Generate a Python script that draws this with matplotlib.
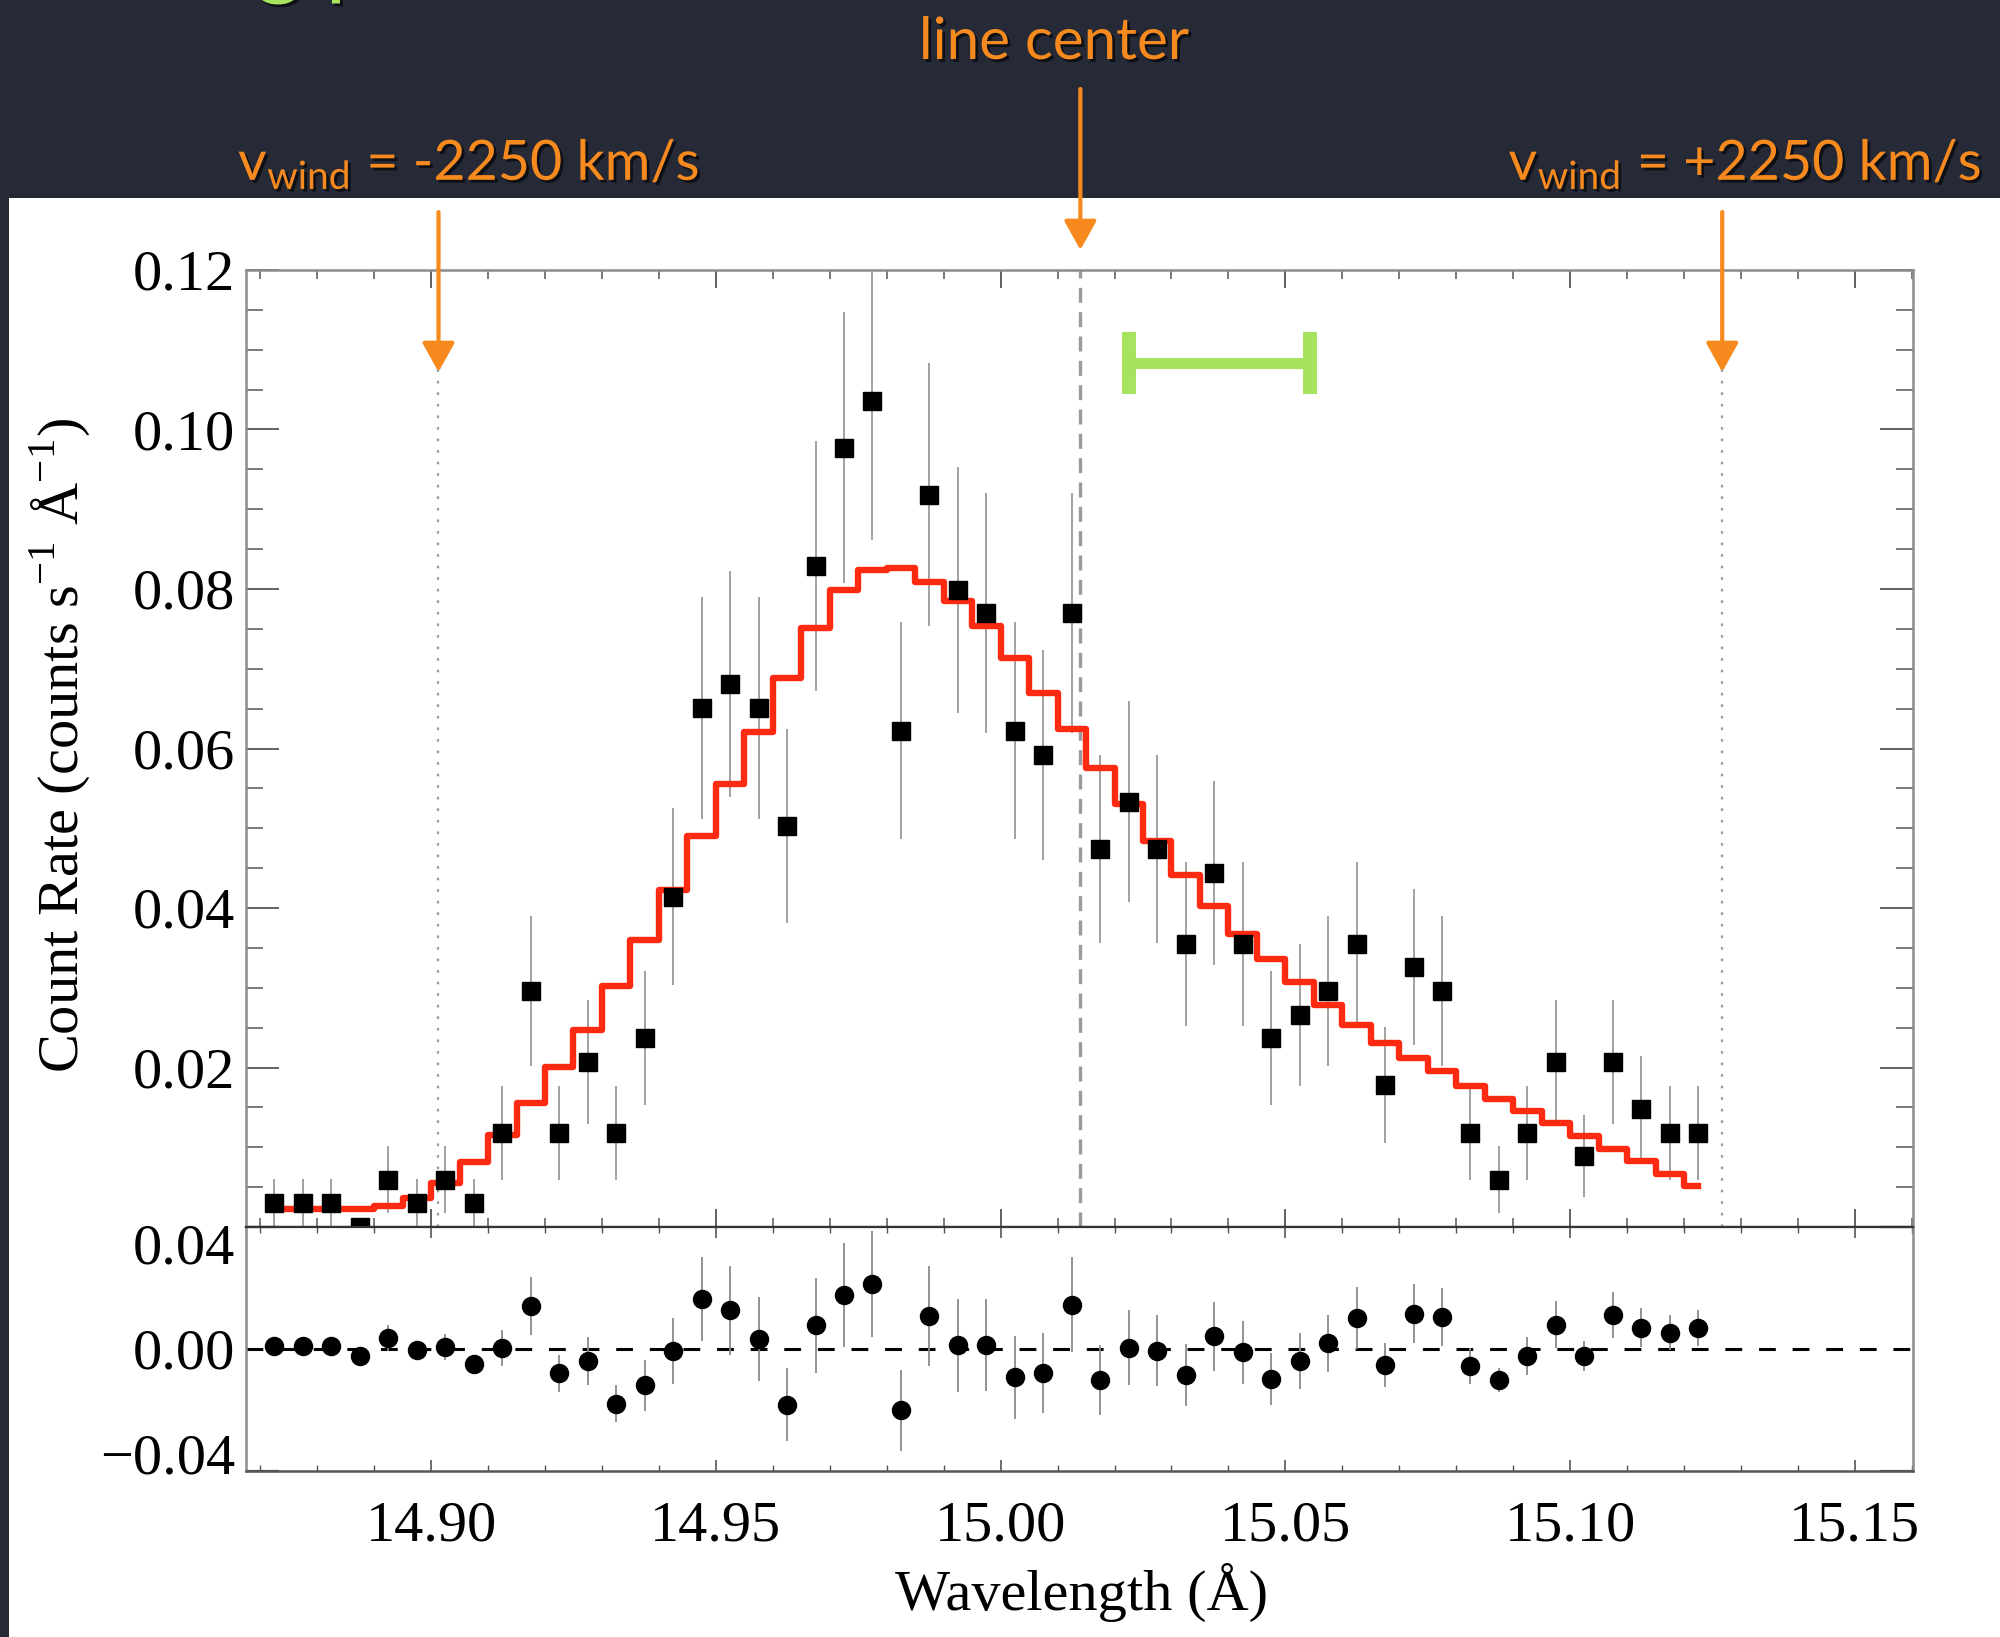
import matplotlib
matplotlib.use("Agg")
import matplotlib.pyplot as plt
import matplotlib.patheffects as pe
from matplotlib.patches import Rectangle
from matplotlib.ticker import MultipleLocator, FixedLocator, FuncFormatter
from matplotlib.transforms import blended_transform_factory

plt.rcParams['font.family'] = ['Liberation Serif', 'DejaVu Serif']
plt.rcParams['mathtext.fontset'] = 'custom'
plt.rcParams['mathtext.rm'] = 'Liberation Serif'
plt.rcParams['mathtext.sf'] = 'Lato'

# --- spectrum: bin centres (Angstrom), count rate, 1-sigma errors, model --- #
wave = [14.8725, 14.8775, 14.8825, 14.8875, 14.8925, 14.8975, 14.9025, 14.9075,
        14.9125, 14.9175, 14.9225, 14.9275, 14.9325, 14.9375, 14.9425, 14.9475,
        14.9525, 14.9575, 14.9625, 14.9675, 14.9725, 14.9775, 14.9825, 14.9875,
        14.9925, 14.9975, 15.0025, 15.0075, 15.0125, 15.0175, 15.0225, 15.0275,
        15.0325, 15.0375, 15.0425, 15.0475, 15.0525, 15.0575, 15.0625, 15.0675,
        15.0725, 15.0775, 15.0825, 15.0875, 15.0925, 15.0975, 15.1025, 15.1075,
        15.1125, 15.1175, 15.1225]

rate = [0.0030, 0.0030, 0.0030, 0.0000, 0.0059, 0.0030, 0.0059, 0.0030,
        0.0118, 0.0296, 0.0118, 0.0207, 0.0118, 0.0237, 0.0414, 0.0651,
        0.0681, 0.0651, 0.0503, 0.0829, 0.0977, 0.1036, 0.0622, 0.0918,
        0.0799, 0.0770, 0.0622, 0.0592, 0.0770, 0.0474, 0.0533, 0.0474,
        0.0355, 0.0444, 0.0355, 0.0237, 0.0266, 0.0296, 0.0355, 0.0178,
        0.0326, 0.0296, 0.0118, 0.0059, 0.0118, 0.0207, 0.0089, 0.0207,
        0.0148, 0.0118, 0.0118]

rate_err = [0.0030, 0.0030, 0.0030, 0.0000, 0.0042, 0.0030, 0.0042, 0.0030,
            0.0059, 0.0094, 0.0059, 0.0078, 0.0059, 0.0084, 0.0111, 0.0139,
            0.0142, 0.0139, 0.0122, 0.0157, 0.0170, 0.0175, 0.0136, 0.0165,
            0.0154, 0.0151, 0.0136, 0.0132, 0.0151, 0.0118, 0.0126, 0.0118,
            0.0103, 0.0115, 0.0103, 0.0084, 0.0089, 0.0094, 0.0103, 0.0073,
            0.0098, 0.0094, 0.0059, 0.0042, 0.0059, 0.0078, 0.0051, 0.0078,
            0.0066, 0.0059, 0.0059]

model = [0.0022, 0.0022, 0.0022, 0.0023, 0.0026, 0.0036, 0.0055, 0.0082,
         0.0115, 0.0155, 0.0201, 0.0247, 0.0302, 0.0360, 0.0423, 0.0490,
         0.0555, 0.0621, 0.0688, 0.0751, 0.0799, 0.0824, 0.0826, 0.0809,
         0.0785, 0.0753, 0.0713, 0.0670, 0.0624, 0.0576, 0.0530, 0.0484,
         0.0442, 0.0402, 0.0368, 0.0336, 0.0307, 0.0278, 0.0253, 0.0231,
         0.0212, 0.0195, 0.0177, 0.0160, 0.0145, 0.0130, 0.0114, 0.0098,
         0.0083, 0.0067, 0.0052]

resid = [0.0011, 0.0011, 0.0011, -0.0027, 0.0042, -0.0006, 0.0007, -0.0058,
         0.0004, 0.0164, -0.0094, -0.0046, -0.0209, -0.0140, -0.0008, 0.0189,
         0.0146, 0.0036, -0.0213, 0.0089, 0.0205, 0.0246, -0.0234, 0.0124,
         0.0013, 0.0013, -0.0109, -0.0092, 0.0168, -0.0118, 0.0004, -0.0008,
         -0.0100, 0.0048, -0.0014, -0.0115, -0.0046, 0.0021, 0.0118, -0.0062,
         0.0134, 0.0121, -0.0067, -0.0118, -0.0029, 0.0092, -0.0027, 0.0130,
         0.0080, 0.0061, 0.0080]

resid_err = [0.0035, 0.0035, 0.0035, 0.0000, 0.0049, 0.0035, 0.0049, 0.0035,
             0.0069, 0.0110, 0.0072, 0.0091, 0.0069, 0.0096, 0.0126, 0.0160,
             0.0168, 0.0160, 0.0138, 0.0182, 0.0197, 0.0203, 0.0154, 0.0190,
             0.0178, 0.0175, 0.0159, 0.0153, 0.0180, 0.0133, 0.0144, 0.0135,
             0.0119, 0.0132, 0.0119, 0.0099, 0.0106, 0.0109, 0.0119, 0.0085,
             0.0113, 0.0110, 0.0069, 0.0045, 0.0072, 0.0091, 0.0057, 0.0088,
             0.0074, 0.0066, 0.0069]

# rest wavelength and the +-2250 km/s wind positions
line_center = 15.014
v_blue = 14.9013
v_red = 15.1267

# resolution bar
res_x = [15.0225, 15.0544]
res_y = 0.1083
res_cap = [0.1044, 0.1122]

x_range = (14.8675, 15.1602)
x_ticks = [14.90, 14.95, 15.00, 15.05, 15.10, 15.15]
y_ticks = [0.00, 0.02, 0.04, 0.06, 0.08, 0.10, 0.12]
r_ticks = [-0.04, 0.00, 0.04]
r_range = (-0.0466, 0.0464)

ORANGE = '#f68a1e'
GREEN = '#a6e35e'
BG = '#262a37'
FRAME = '#8c8c8c'
FS = 42

fig = plt.figure(figsize=(20, 16.37), dpi=100, facecolor=BG)
W, H = 2000.0, 1637.0
fig.add_artist(Rectangle((9 / W, 0), 1, 1 - 198 / H, transform=fig.transFigure,
                         facecolor='white', edgecolor='none', zorder=-5))

ax = fig.add_axes([246 / W, 1 - 1227 / H, 1667 / W, 957 / H])
axr = fig.add_axes([246 / W, 1 - 1471 / H, 1667 / W, 244 / H])

# ---- upper panel: spectrum and model ----
ax.errorbar(wave, rate, yerr=rate_err, fmt='none', ecolor='#9a9a9a',
            elinewidth=1.3, capsize=0, zorder=2)
ax.plot(wave, model, drawstyle='steps-mid', color='#ff2a12', lw=4.6, zorder=3)
ax.plot(wave, rate, 's', color='black', ms=13, zorder=4)

ax.axvline(line_center, color='#9a9a9a', lw=2.4, ls=(0, (4.5, 2.8)), zorder=1)
for v in (v_blue, v_red):
    ax.axvline(v, color='#9a9a9a', lw=1.6, ls=(0, (1.2, 4.0)), zorder=1)

ax.plot(res_x, [res_y, res_y], color=GREEN, lw=8, solid_capstyle='butt', zorder=5)
for xx in res_x:
    ax.plot([xx, xx], res_cap, color=GREEN, lw=10, solid_capstyle='butt', zorder=5)

ax.set_xlim(*x_range)
ax.set_ylim(0, 0.12)
ax.xaxis.set_major_locator(FixedLocator(x_ticks))
ax.xaxis.set_minor_locator(MultipleLocator(0.01))
ax.yaxis.set_major_locator(FixedLocator(y_ticks))
ax.yaxis.set_minor_locator(MultipleLocator(0.005))
ax.yaxis.set_major_formatter(FuncFormatter(lambda v, p: '' if abs(v) < 1e-9 else f'{v:.2f}'))
ax.tick_params(which='both', direction='in', top=True, right=True, color='#555555',
               labelbottom=False)
ax.tick_params(axis='x', which='major', length=13, width=1.3)
ax.tick_params(axis='x', which='minor', length=6.5, width=1.1)
ax.tick_params(axis='y', which='major', length=24, width=1.3, labelsize=FS, pad=8)
ax.tick_params(axis='y', which='minor', length=12, width=1.1)
for s in ('top', 'left', 'right'):
    ax.spines[s].set_color(FRAME)
    ax.spines[s].set_linewidth(1.8)
ax.spines['bottom'].set_color('#333333')
ax.spines['bottom'].set_linewidth(1.6)

# ---- lower panel: residuals ----
axr.axhline(0, color='black', lw=2.2, ls=(0, (5.5, 5.5)), zorder=1)
axr.errorbar(wave, resid, yerr=resid_err, fmt='none', ecolor='#8a8a8a',
             elinewidth=1.3, capsize=0, zorder=2)
axr.plot(wave, resid, 'o', color='black', ms=13, zorder=3)

axr.set_xlim(*x_range)
axr.set_ylim(*r_range)
axr.xaxis.set_major_locator(FixedLocator(x_ticks))
axr.xaxis.set_minor_locator(MultipleLocator(0.01))
axr.xaxis.set_major_formatter(FuncFormatter(lambda v, p: f'{v:.2f}'))
axr.yaxis.set_major_locator(FixedLocator(r_ticks))
axr.yaxis.set_major_formatter(FuncFormatter(lambda v, p: f'{v:.2f}'.replace('-', '\u2212')))
axr.yaxis.set_minor_locator(FixedLocator(list(r_range)))
axr.tick_params(which='both', direction='in', top=True, right=True, color='#555555')
axr.tick_params(axis='x', which='major', length=8, width=1.2, labelsize=FS, pad=21)
axr.tick_params(axis='x', which='minor', length=4, width=1.0)
axr.tick_params(axis='y', which='major', length=0, labelsize=FS, pad=8)
axr.tick_params(axis='y', which='minor', length=24, width=1.6)
for s in ('left', 'right'):
    axr.spines[s].set_color(FRAME)
    axr.spines[s].set_linewidth(1.8)
axr.spines['top'].set_color('#333333')
axr.spines['top'].set_linewidth(1.6)
axr.spines['bottom'].set_color('#555555')
axr.spines['bottom'].set_linewidth(1.8)

fig.text(60 / W, 1 - 746 / H, r'Count Rate (counts s$^{-1}$ $\mathrm{\AA}^{-1}$)',
         rotation=90, ha='center', va='center', fontsize=FS)
fig.text(1082 / W, 1 - 1592 / H, 'Wavelength (Å)', ha='center', va='center', fontsize=FS)

# ---- orange labels and arrows ----
shadow = [pe.SimplePatchShadow(offset=(2, -2), shadow_rgbFace='black', alpha=0.6), pe.Normal()]
trans = blended_transform_factory(ax.transData, fig.transFigure)
arrow_kw = dict(arrowstyle='-|>,head_length=0.9,head_width=0.5', color=ORANGE, lw=3,
                mutation_scale=20, shrinkA=0, shrinkB=0)
for v, y0, y1 in ((line_center, 1 - 89 / H, 1 - 250 / H),
                  (v_blue, 1 - 212 / H, 1 - 372 / H),
                  (v_red, 1 - 212 / H, 1 - 372 / H)):
    ax.annotate('', xy=(v, y1), xycoords=trans, xytext=(v, y0), textcoords=trans,
                arrowprops=arrow_kw, annotation_clip=False, zorder=10)

fig.text(1054 / W, 1 - 59 / H, 'line center', color=ORANGE, family='Lato',
         fontsize=42, ha='center', va='baseline', path_effects=shadow)
fig.text(238 / W, 1 - 180 / H, r'v$_{\mathsf{wind}}$ = -2250 km/s', color=ORANGE,
         family='Lato', fontsize=40, ha='left', va='baseline', path_effects=shadow)
fig.text(1981 / W, 1 - 180 / H, r'v$_{\mathsf{wind}}$ = +2250 km/s', color=ORANGE,
         family='Lato', fontsize=40, ha='right', va='baseline', path_effects=shadow)

# slide heading, mostly above the visible area
fig.text(46 / W, 1 + 12 / H, 'Fitting profile', color=GREEN, family='Lato',
         fontsize=65, ha='left', va='baseline', path_effects=shadow)

fig.savefig('out.png', dpi=100, facecolor=BG)
